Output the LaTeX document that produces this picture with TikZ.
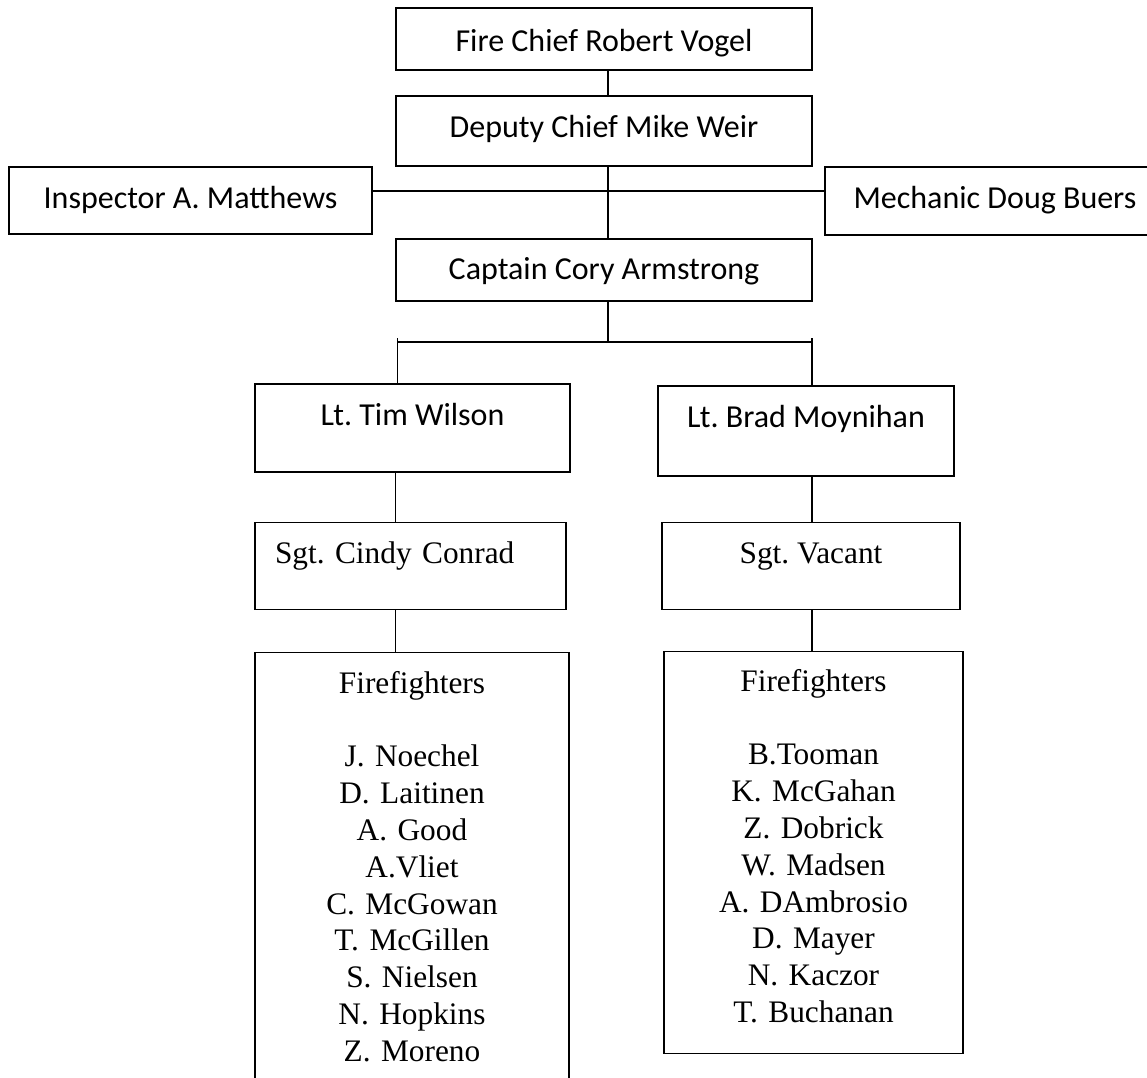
\documentclass[tikz,border=0pt]{standalone}
\usepackage{fontspec}
\newfontfamily\orgsans{Carlito}
\newfontfamily\orgserif{Liberation Serif}
\frenchspacing
\tikzset{
  topbox/.style={draw, line width=1.5pt, inner sep=0pt, anchor=north, font=\orgsans\fontsize{24}{28}\selectfont},
  serifbox/.style={draw, line width=0.8pt, inner sep=0pt, anchor=north, font=\orgserif\fontsize{23.5}{27.6}\selectfont},
  link/.style={line width=1.1pt}
}
\begin{document}
\begin{tikzpicture}[x=0.75pt,y=-0.75pt]
\clip (0,0) rectangle (1147,1078);

%command staff
\node[topbox, minimum width=312pt, text height=32.25pt, text depth=14.25pt] (chief) at (604,7) {Fire Chief Robert Vogel};
\node[topbox, minimum width=312pt, text height=30.75pt, text depth=21.75pt] (deputy) at (604,95) {Deputy Chief Mike Weir};
\node[topbox, minimum width=272.25pt, text height=30.75pt, text depth=19.5pt] (inspector) at (190.5,166) {Inspector A. Matthews};
\node[topbox, minimum width=255pt, text height=30.75pt, text depth=20.25pt] (mechanic) at (995,166) {Mechanic Doug Buers};
\node[topbox, minimum width=312pt, text height=30pt, text depth=16.5pt] (captain) at (604,238) {Captain Cory Armstrong};

%lieutenants
\node[topbox, minimum width=236.25pt, text height=30.75pt, text depth=35.25pt] (ltw) at (412.5,383) {Lt. Tim Wilson};
\node[topbox, minimum width=222pt, text height=30.75pt, text depth=36.75pt] (ltb) at (806,385) {Lt. Brad Moynihan};

%sergeants
\node[serifbox, text width=203.25pt, inner xsep=15pt, align=left, text height=30.75pt, text depth=34.5pt] (sgc) at (410.5,522) {Sgt. Cindy Conrad};
\node[serifbox, minimum width=223.5pt, text height=30.75pt, text depth=34.5pt] (sgv) at (811,522) {Sgt. Vacant};

%firefighters
\node[serifbox, text width=235.5pt, align=center, text height=30.5pt, text depth=305pt] (ffl) at (412,652)
  {Firefighters\\[27.6pt]J. Noechel\\D. Laitinen\\A. Good\\A.Vliet\\C. McGowan\\T. McGillen\\S. Nielsen\\N. Hopkins\\Z. Moreno};
\node[serifbox, text width=224.25pt, align=center, text height=29.8pt, text depth=271.7pt] (ffr) at (813.5,651)
  {Firefighters\\[27.6pt]B.Tooman\\K. McGahan\\Z. Dobrick\\W. Madsen\\A. DAmbrosio\\D. Mayer\\N. Kaczor\\T. Buchanan};

%connectors
\coordinate (trunk) at (608,0);
\coordinate (leftline) at (395.5,0);
\coordinate (rightline) at (812,0);
\coordinate (busleft) at (397.5,342);
\coordinate (busright) at (812,342);
\coordinate (tickleft) at (397.5,338);
\coordinate (tickright) at (812,338);

\draw[link] (chief.south -| trunk) -- (deputy.north -| trunk);
\draw[link] (deputy.south -| trunk) -- (captain.north -| trunk);
\draw[link] ([yshift=7pt]inspector.east) -- ([yshift=7pt]inspector.east -| mechanic.west);
\draw[link] (captain.south -| trunk) -- (busleft -| trunk);
\draw[link, line width=1.5pt] (busleft) -- (busright);
\draw[link] (tickleft) -- (ltw.north -| tickleft);
\draw[link] (tickright) -- (ltb.north -| tickright);
\draw[link] (ltw.south -| leftline) -- (sgc.north -| leftline);
\draw[link] (ltb.south -| rightline) -- (sgv.north -| rightline);
\draw[link] (sgc.south -| leftline) -- (ffl.north -| leftline);
\draw[link] (sgv.south -| rightline) -- (ffr.north -| rightline);
\end{tikzpicture}
\end{document}
